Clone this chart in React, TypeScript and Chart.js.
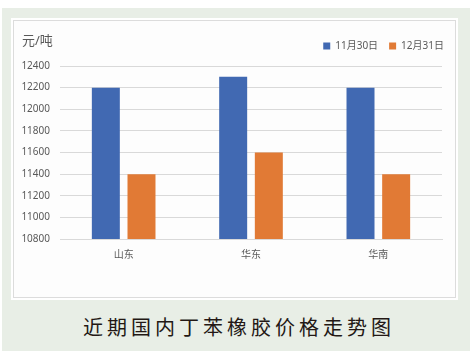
import React, { useEffect, useRef } from "react";
import { Chart, registerables } from "chart.js";

Chart.register(...registerables);

const categories = ["山东", "华东", "华南"];
const seriesNames = ["11月30日", "12月31日"];
const nov30 = [12200, 12300, 12200];
const dec31 = [11400, 11600, 11400];
const yMin = 10800;
const yMax = 12400;
const yStep = 200;
const unitLabel = "元/吨";
const caption = "近期国内丁苯橡胶价格走势图";

const FONT = "'Noto Sans', 'Noto Sans CJK SC', sans-serif";

const legendMargin = {
  id: "legendMargin",
  beforeInit(chart: any) {
    const legend = chart.legend;
    if (!legend) return;
    const origFit = legend.fit;
    legend.fit = function () {
      origFit.bind(legend)();
      this.height += 5;
    };
  },
};

export default function App() {
  const ref = useRef<HTMLCanvasElement | null>(null);

  useEffect(() => {
    if (!ref.current) return;
    const chart = new Chart(ref.current, {
      type: "bar",
      data: {
        labels: categories,
        datasets: [
          {
            label: seriesNames[0],
            data: nov30,
            backgroundColor: "#4169B2",
            categoryPercentage: 0.56,
            barPercentage: 0.785,
          },
          {
            label: seriesNames[1],
            data: dec31,
            backgroundColor: "#E17A35",
            categoryPercentage: 0.56,
            barPercentage: 0.785,
          },
        ],
      },
      plugins: [legendMargin],
      options: {
        animation: false,
        responsive: false,
        maintainAspectRatio: false,
        layout: { padding: { left: 0, right: 0, top: 9, bottom: 26 } },
        plugins: {
          legend: {
            position: "top",
            align: "end",
            labels: {
              boxWidth: 7,
              boxHeight: 7,
              padding: 11,
              color: "#595959",
              font: { family: FONT, size: 10 },
            },
          },
          title: { display: false },
          tooltip: { enabled: false },
        },
        scales: {
          x: {
            grid: { display: false, drawTicks: false },
            border: { color: "#d9d9d9" },
            ticks: {
              color: "#595959",
              padding: 10,
              font: { family: FONT, size: 10 },
            },
          },
          y: {
            min: yMin,
            max: yMax,
            afterFit: (scale: any) => {
              scale.width = 46;
            },
            grid: { color: "#d9d9d9", drawTicks: false },
            border: { display: false },
            ticks: {
              stepSize: yStep,
              color: "#595959",
              padding: 10,
              font: { family: FONT, size: 10 },
              callback: (v: any) => String(v),
            },
          },
          yRight: {
            position: "right",
            display: true,
            afterFit: (scale: any) => {
              scale.width = 13;
            },
            grid: { display: false, drawTicks: false },
            border: { display: false },
            ticks: { display: false },
          },
        },
      },
    });
    return () => chart.destroy();
  }, []);

  return (
    <div
      style={{
        position: "absolute",
        left: 0,
        top: 0,
        width: 474,
        height: 355,
        background: "#ffffff",
      }}
    >
      <div
        style={{
          position: "absolute",
          left: 2,
          top: 8,
          width: 468,
          height: 343,
          background: "#e8eee6",
        }}
      />
      <div
        style={{
          position: "absolute",
          left: 11,
          top: 18,
          width: 447,
          height: 282,
          background: "#ffffff",
        }}
      />
      <div
        style={{
          position: "absolute",
          left: 13,
          top: 20,
          width: 441,
          height: 276,
          background: "#fdfdfd",
          border: "1px solid #dcdcdc",
        }}
      >
        <canvas ref={ref} width={441} height={276} style={{ display: "block" }} />
        <div
          style={{
            position: "absolute",
            left: 8,
            top: 10,
            fontFamily: FONT,
            fontSize: 13,
            color: "#595959",
            lineHeight: "18px",
          }}
        >
          {unitLabel}
        </div>
      </div>
      <div
        style={{
          position: "absolute",
          left: 0,
          top: 313,
          width: 474,
          textAlign: "center",
          fontFamily: "'Noto Sans CJK SC', sans-serif",
          fontSize: 20,
          letterSpacing: 4,
          lineHeight: "28px",
          color: "#231815",
          paddingLeft: 4,
          boxSizing: "border-box",
        }}
      >
        {caption}
      </div>
    </div>
  );
}
